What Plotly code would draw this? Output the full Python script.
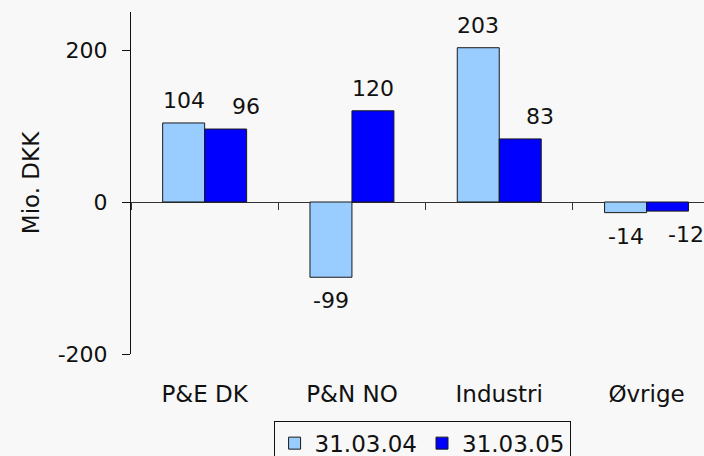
import plotly.graph_objects as go

categories = ["P&E DK", "P&N NO", "Industri", "Øvrige"]
series_names = ["31.03.04", "31.03.05"]
values_2004 = [104, -99, 203, -14]
values_2005 = [96, 120, 83, -12]
y_ticks = [-200, 0, 200]
y_tick_labels = ["-200", "0", "200"]

# styling: horizontal pixel nudges of the value labels (as placed in the original)
label_nudge_2004 = [0, 0, 0, 0]
label_nudge_2005 = [20, 0, 20, 18]

colors = ["#99CCFF", "#0000FF"]
FONT = "DejaVu Sans"
BG = "#F8F8F8"

fig = go.Figure()
for name, vals, col in zip(series_names, [values_2004, values_2005], colors):
    fig.add_trace(go.Bar(
        x=categories, y=vals, name=name,
        marker=dict(color=col, line=dict(color="#1a1a1a", width=1)),
        hoverinfo="skip",
    ))

# helper trace so the zero-line axis with boundary ticks is drawn
fig.add_trace(go.Scatter(x=categories, y=[None] * len(categories), xaxis="x2",
                         mode="lines", showlegend=False, hoverinfo="skip"))

annotations = []
for vals, shift, nudges in [(values_2004, -21, label_nudge_2004),
                            (values_2005, 21, label_nudge_2005)]:
    for c, v, n in zip(categories, vals, nudges):
        annotations.append(dict(
            x=c, y=v, xref="x", yref="y", text=str(v), showarrow=False,
            xshift=shift + n,
            yanchor="bottom" if v >= 0 else "top",
            yshift=8 if v >= 0 else -9,
            font=dict(family=FONT, size=22, color="#111"),
        ))

y_range = [-200, 250]
x_range = [-0.5, 3.39]

fig.update_layout(
    width=704, height=456,
    margin=dict(l=131, r=0, t=12, b=102, autoexpand=False),
    paper_bgcolor=BG, plot_bgcolor=BG,
    barmode="group", bargap=0.43, bargroupgap=0,
    font=dict(family=FONT, size=22, color="#111"),
    showlegend=True,
    legend=dict(
        orientation="h", x=0.508, xanchor="center", y=-0.195, yanchor="top",
        bgcolor=BG, bordercolor="#111", borderwidth=1,
        font=dict(family=FONT, size=23, color="#111"),
        itemwidth=30,
    ),
    xaxis=dict(
        range=x_range, showgrid=False, showline=False, ticks="",
        zeroline=False, tickfont=dict(size=23), ticklabelstandoff=24,
        automargin=False,
    ),
    xaxis2=dict(
        type="category", categoryorder="array", categoryarray=categories,
        range=x_range, overlaying="x", anchor="free",
        position=(0 - y_range[0]) / (y_range[1] - y_range[0]),
        showgrid=False, showline=False, zeroline=False,
        showticklabels=False, tickson="boundaries",
        ticks="outside", ticklen=7, tickcolor="#333", tickwidth=1,
        automargin=False,
    ),
    yaxis=dict(
        range=y_range, tickvals=y_ticks, ticktext=y_tick_labels, showgrid=False,
        showline=True, linecolor="#111", linewidth=1,
        ticks="outside", ticklen=8, tickcolor="#111",
        zeroline=True, zerolinecolor="#333", zerolinewidth=1,
        ticklabelstandoff=10, tickfont=dict(size=22),
        title=dict(text="Mio. DKK", font=dict(size=23), standoff=11),
        automargin=False,
    ),
    annotations=annotations,
)

fig.write_html(
    "out.html",
    config={"displayModeBar": False},
    post_script="document.body.style.margin='0';document.body.style.overflow='hidden';",
)
